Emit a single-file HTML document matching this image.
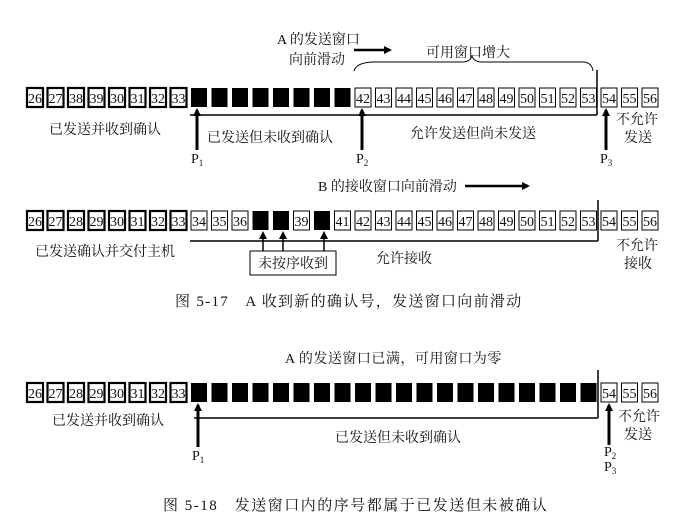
<!DOCTYPE html>
<html><head><meta charset="utf-8"><style>
html,body{margin:0;padding:0;background:#fff;}
svg{display:block;}
text{font-family:"Liberation Serif","Noto Serif CJK SC",serif;fill:#111;}
</style></head><body>
<svg width="697" height="512" viewBox="0 0 697 512" xmlns="http://www.w3.org/2000/svg">
<defs>
<marker id="ah" markerWidth="8" markerHeight="8" refX="6" refY="4" orient="auto" markerUnits="userSpaceOnUse">
<path d="M0,0 L8,4 L0,8 z" fill="#000"/></marker>
</defs>
<g id="all"></g>
<text x="277" y="44" font-size="14">A 的发送窗口</text>
<text x="289" y="64" font-size="14">向前滑动</text>
<line x1="354" y1="50" x2="390" y2="50" stroke="#000" stroke-width="2.5" marker-end="url(#ah)"/>
<text x="426" y="57" font-size="14">可用窗口增大</text>
<path d="M354,71 Q356,63 372,62 L462,62 Q470,62 472,56 Q474,62 482,62 L584,62 Q592,63 593,71" fill="none" stroke="#000" stroke-width="1"/>
<line x1="597" y1="70" x2="597" y2="115" stroke="#000" stroke-width="1.5"/>
<line x1="190" y1="115" x2="597" y2="115" stroke="#000" stroke-width="1.5"/>
<text x="49" y="134" font-size="14">已发送并收到确认</text>
<text x="207" y="142" font-size="14">已发送但未收到确认</text>
<text x="410" y="138" font-size="14">允许发送但尚未发送</text>
<text x="616" y="124" font-size="14">不允许</text>
<text x="624" y="142" font-size="14">发送</text>
<line x1="197" y1="150" x2="197" y2="110" stroke="#000" stroke-width="3" marker-end="url(#ah)"/>
<text x="191" y="163" font-size="14">P<tspan font-size="9" dy="3">1</tspan></text>
<line x1="362" y1="150" x2="362" y2="110" stroke="#000" stroke-width="3" marker-end="url(#ah)"/>
<text x="356" y="163" font-size="14">P<tspan font-size="9" dy="3">2</tspan></text>
<line x1="606" y1="150" x2="606" y2="110" stroke="#000" stroke-width="3" marker-end="url(#ah)"/>
<text x="600" y="163" font-size="14">P<tspan font-size="9" dy="3">3</tspan></text>
<text x="318" y="191" font-size="14">B 的接收窗口向前滑动</text>
<line x1="465" y1="186" x2="528" y2="186" stroke="#000" stroke-width="2.5" marker-end="url(#ah)"/>
<line x1="598" y1="200" x2="598" y2="241" stroke="#000" stroke-width="1.5"/>
<line x1="190" y1="241" x2="598" y2="241" stroke="#000" stroke-width="1.5"/>
<line x1="263" y1="251" x2="263" y2="233" stroke="#000" stroke-width="1.5" marker-end="url(#ah)"/>
<line x1="283" y1="251" x2="283" y2="233" stroke="#000" stroke-width="1.5" marker-end="url(#ah)"/>
<line x1="324" y1="251" x2="324" y2="233" stroke="#000" stroke-width="1.5" marker-end="url(#ah)"/>
<rect x="250" y="251" width="86" height="24" fill="none" stroke="#000" stroke-width="1"/>
<text x="258" y="268" font-size="14">未按序收到</text>
<text x="35" y="256" font-size="14">已发送确认并交付主机</text>
<text x="376" y="263" font-size="14">允许接收</text>
<text x="616" y="250" font-size="14">不允许</text>
<text x="624" y="268" font-size="14">接收</text>
<text x="175" y="306" font-size="15" letter-spacing="1.3">图 5-17　A 收到新的确认号，发送窗口向前滑动</text>
<text x="285" y="363" font-size="14" letter-spacing="0.5">A 的发送窗口已满，可用窗口为零</text>
<line x1="598" y1="370" x2="598" y2="418" stroke="#000" stroke-width="1.5"/>
<line x1="194" y1="418" x2="598" y2="418" stroke="#000" stroke-width="1.5"/>
<text x="52" y="425" font-size="14">已发送并收到确认</text>
<text x="335" y="442" font-size="14">已发送但未收到确认</text>
<text x="618" y="421" font-size="14">不允许</text>
<text x="624" y="439" font-size="14">发送</text>
<line x1="198" y1="447" x2="198" y2="405" stroke="#000" stroke-width="3" marker-end="url(#ah)"/>
<text x="192" y="460" font-size="14">P<tspan font-size="9" dy="3">1</tspan></text>
<line x1="609" y1="445" x2="609" y2="405" stroke="#000" stroke-width="3" marker-end="url(#ah)"/>
<text x="604" y="456" font-size="14">P<tspan font-size="9" dy="3">2</tspan></text>
<text x="604" y="471" font-size="14">P<tspan font-size="9" dy="3">3</tspan></text>
<text x="163" y="510" font-size="15" letter-spacing="1.5">图 5-18　发送窗口内的序号都属于已发送但未被确认</text>
</svg>
<script>
(function(){
var g=document.getElementById('all');var ns='http://www.w3.org/2000/svg';
function box(i,y,type,label){
 var x=27+i*20.5;
 var r=document.createElementNS(ns,'rect');
 r.setAttribute('x',x);r.setAttribute('y',y);r.setAttribute('width',16);r.setAttribute('height',19);
 if(type=='b'){r.setAttribute('fill','#000');}
 else{r.setAttribute('fill','#fff');r.setAttribute('stroke','#000');r.setAttribute('stroke-width',type=='t'?2.2:1);}
 g.appendChild(r);
 if(type!='b'){var t=document.createElementNS(ns,'text');t.setAttribute('x',x+8);t.setAttribute('y',y+15);
 t.setAttribute('font-size','14');t.setAttribute('text-anchor','middle');t.setAttribute('textLength','14');t.setAttribute('lengthAdjust','spacingAndGlyphs');t.textContent=label;g.appendChild(t);}
}
var r1=['26','27','38','39','30','31','32','33'];
for(var i=0;i<31;i++){
 var n=26+i;
 if(i<8)box(i,88,'t',r1[i]);else if(i<16)box(i,88,'b');else box(i,88,'n',''+n);
 if(i<8)box(i,211,'t',''+n);else if(n==37||n==38||n==40)box(i,211,'b');else box(i,211,'n',''+n);
 if(i<8)box(i,383,'t',''+n);else if(i<28)box(i,383,'b');else box(i,383,'n',''+n);
}
})();
</script>
</body></html>
